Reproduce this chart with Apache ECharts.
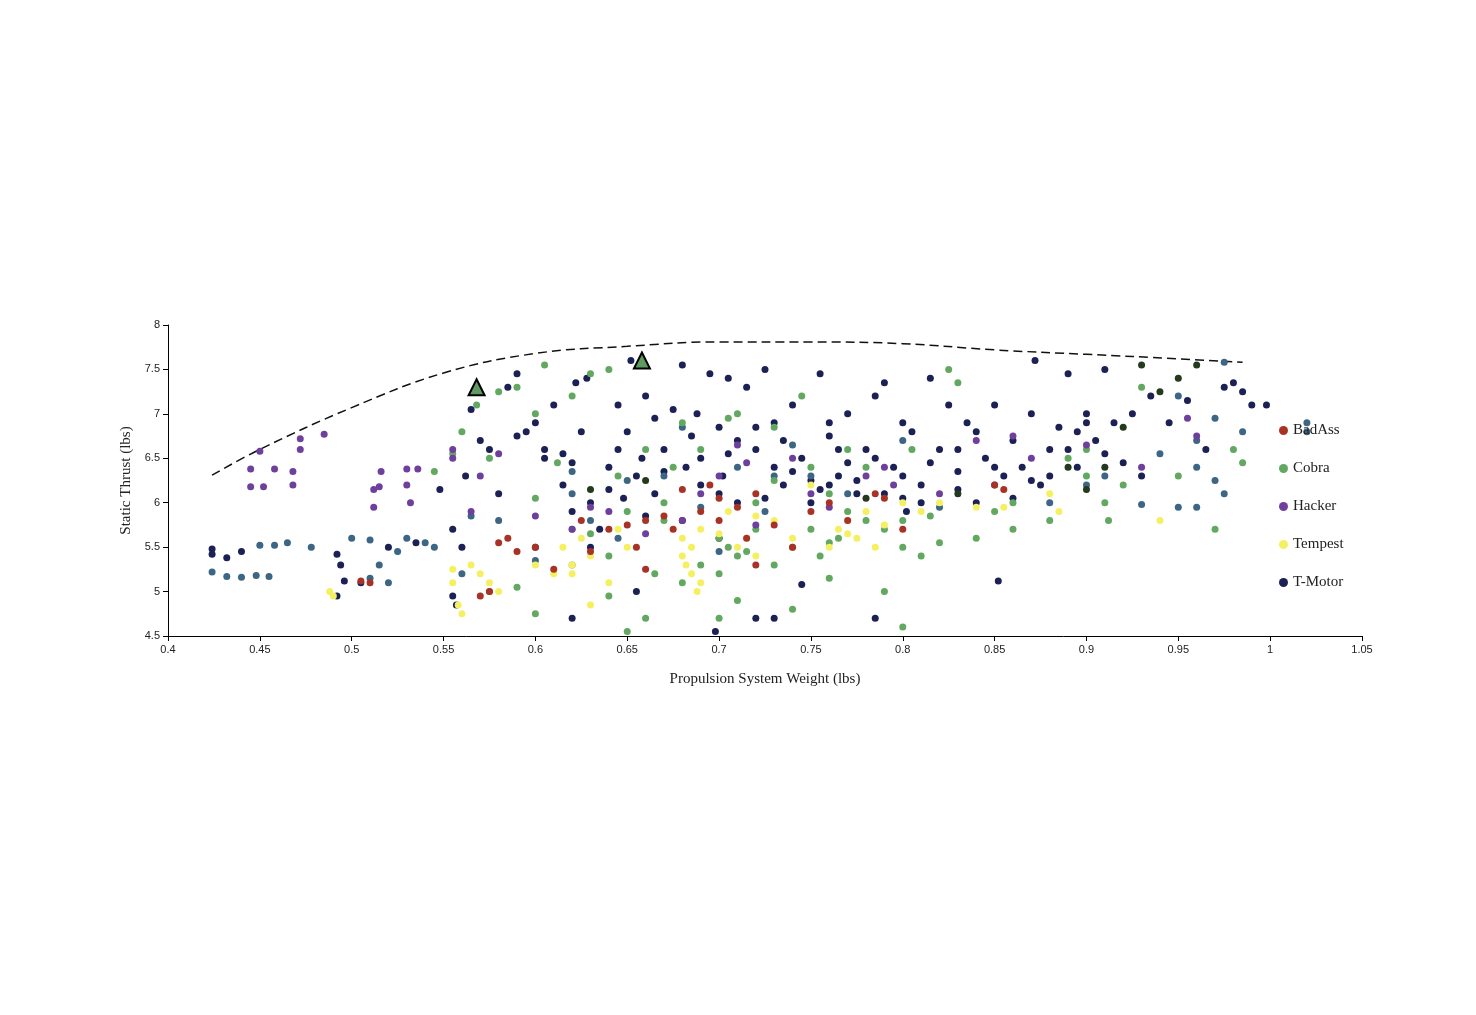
<!DOCTYPE html>
<html><head><meta charset="utf-8">
<script src="https://cdn.jsdelivr.net/npm/echarts@6/dist/echarts.min.js"></script>
<style>html,body{margin:0;background:#fff}#c{width:1476px;height:1015px}</style></head>
<body><div id="c"></div>
<script>
const tmotor=[[0.424,5.48],[0.424,5.42],[0.432,5.38],[0.44,5.45],[0.492,5.42],[0.494,5.3],[0.496,5.12],[0.492,4.95],[0.505,5.1],[0.52,5.5],[0.535,5.55],[0.555,4.95],[0.557,4.85],[0.56,5.5],[0.555,5.7],[0.548,6.15],[0.562,6.3],[0.565,7.05],[0.57,6.7],[0.575,6.6],[0.58,6.1],[0.585,7.3],[0.59,7.45],[0.595,6.8],[0.6,6.9],[0.605,6.5],[0.61,7.1],[0.615,6.2],[0.62,5.9],[0.622,7.35],[0.628,7.4],[0.63,6.0],[0.635,5.7],[0.64,6.4],[0.645,7.1],[0.648,6.05],[0.65,6.8],[0.652,7.6],[0.655,6.3],[0.658,6.5],[0.66,7.2],[0.665,6.1],[0.67,6.6],[0.675,7.05],[0.68,7.55],[0.682,6.4],[0.688,7.0],[0.69,6.2],[0.695,7.45],[0.7,6.85],[0.702,6.3],[0.705,7.4],[0.71,6.0],[0.715,7.3],[0.72,6.6],[0.725,7.5],[0.73,6.9],[0.735,6.2],[0.74,7.1],[0.745,6.5],[0.75,6.0],[0.755,7.45],[0.76,6.75],[0.765,6.3],[0.77,7.0],[0.775,6.1],[0.78,6.6],[0.785,7.2],[0.79,7.35],[0.795,6.4],[0.8,6.05],[0.802,5.9],[0.805,6.8],[0.81,6.2],[0.815,7.4],[0.82,6.6],[0.825,7.1],[0.83,6.35],[0.835,6.9],[0.84,6.0],[0.845,6.5],[0.85,7.1],[0.852,5.12],[0.855,6.3],[0.86,6.7],[0.865,6.4],[0.87,7.0],[0.872,7.6],[0.875,6.2],[0.88,6.6],[0.885,6.85],[0.89,7.45],[0.895,6.4],[0.9,7.0],[0.905,6.7],[0.91,7.5],[0.915,6.9],[0.92,6.45],[0.925,7.0],[0.93,6.3],[0.935,7.2],[0.945,6.9],[0.955,7.15],[0.965,6.6],[0.975,7.3],[0.98,7.35],[0.985,7.25],[0.99,7.1],[0.998,7.1],[0.785,4.7],[0.72,4.7],[0.73,4.7],[0.698,4.55],[0.745,5.08],[0.62,4.7],[0.655,5.0],[0.68,5.8],[0.7,5.6],[0.73,6.4],[0.75,6.25],[0.76,6.9],[0.64,6.15],[0.66,5.85],[0.71,6.7],[0.79,6.1],[0.81,6.0],[0.83,6.15],[0.86,6.05],[0.88,6.3],[0.9,6.9],[0.7,6.1],[0.725,6.05],[0.6,5.5],[0.605,6.6],[0.59,6.75],[0.63,5.5],[0.69,6.5],[0.765,6.6],[0.775,6.25],[0.895,6.8],[0.615,6.55],[0.625,6.8],[0.645,6.6],[0.67,6.35],[0.685,6.75],[0.705,6.55],[0.72,6.85],[0.74,6.35],[0.755,6.15],[0.77,6.45],[0.785,6.5],[0.8,6.3],[0.815,6.45],[0.83,6.6],[0.85,6.4],[0.87,6.25],[0.89,6.6],[0.91,6.55],[0.735,6.7],[0.665,6.95],[0.62,6.45],[0.76,6.2],[0.8,6.9],[0.84,6.8]];
const teal=[[0.424,5.22],[0.432,5.17],[0.44,5.16],[0.448,5.18],[0.455,5.17],[0.45,5.52],[0.458,5.52],[0.465,5.55],[0.478,5.5],[0.5,5.6],[0.51,5.58],[0.515,5.3],[0.525,5.45],[0.53,5.6],[0.54,5.55],[0.545,5.5],[0.52,5.1],[0.51,5.15],[0.56,5.2],[0.565,5.85],[0.58,5.8],[0.6,5.35],[0.62,6.1],[0.63,5.8],[0.65,6.25],[0.67,6.3],[0.69,5.95],[0.71,6.4],[0.73,6.3],[0.75,6.3],[0.77,6.1],[0.8,6.7],[0.82,5.95],[0.88,6.0],[0.9,6.2],[0.93,5.98],[0.95,5.95],[0.96,5.95],[0.97,6.25],[0.975,6.1],[0.96,6.7],[0.97,6.95],[0.985,6.8],[1.02,6.9],[1.02,6.8],[0.95,7.2],[0.96,6.4],[0.94,6.55],[0.68,6.85],[0.74,6.65],[0.62,6.35],[0.645,5.6],[0.7,5.45],[0.725,5.9],[0.85,6.2],[0.91,6.3],[0.975,7.58]];
const cobra=[[0.56,6.8],[0.568,7.1],[0.575,6.5],[0.58,7.25],[0.59,7.3],[0.6,7.0],[0.605,7.55],[0.612,6.45],[0.62,7.2],[0.63,7.45],[0.64,7.5],[0.645,6.3],[0.65,5.9],[0.66,6.6],[0.665,5.2],[0.67,6.0],[0.675,6.4],[0.68,6.9],[0.69,5.3],[0.7,5.6],[0.705,6.95],[0.71,5.4],[0.72,5.7],[0.73,6.25],[0.74,5.5],[0.745,7.2],[0.75,5.7],[0.755,5.4],[0.76,6.1],[0.765,5.6],[0.77,5.9],[0.78,6.4],[0.79,5.7],[0.8,5.5],[0.805,6.6],[0.81,5.4],[0.815,5.85],[0.825,7.5],[0.83,7.35],[0.84,5.6],[0.85,5.9],[0.86,5.7],[0.88,5.8],[0.89,6.5],[0.9,6.3],[0.91,6.0],[0.912,5.8],[0.92,6.2],[0.93,7.3],[0.97,5.7],[0.98,6.6],[0.985,6.45],[0.65,4.55],[0.66,4.7],[0.64,4.95],[0.6,4.75],[0.59,5.05],[0.62,5.3],[0.7,4.7],[0.71,4.9],[0.8,4.6],[0.79,5.0],[0.76,5.15],[0.74,4.8],[0.63,5.65],[0.67,5.8],[0.69,6.6],[0.72,6.0],[0.75,6.4],[0.77,6.6],[0.545,6.35],[0.555,6.55],[0.575,5.0],[0.6,6.05],[0.62,5.7],[0.7,5.2],[0.73,5.3],[0.76,5.55],[0.78,5.8],[0.8,5.8],[0.82,5.55],[0.64,5.4],[0.68,5.1],[0.705,5.5],[0.715,5.45],[0.71,7.0],[0.73,6.85],[0.86,6.0],[0.9,6.6],[0.95,6.3]];
const hacker=[[0.445,6.38],[0.445,6.18],[0.452,6.18],[0.45,6.58],[0.458,6.38],[0.468,6.35],[0.468,6.2],[0.472,6.72],[0.472,6.6],[0.485,6.77],[0.512,6.15],[0.515,6.18],[0.512,5.95],[0.516,6.35],[0.53,6.38],[0.53,6.2],[0.532,6.0],[0.536,6.38],[0.555,6.6],[0.555,6.5],[0.565,5.9],[0.57,6.3],[0.58,6.55],[0.6,5.85],[0.62,5.7],[0.64,5.9],[0.66,5.65],[0.68,5.8],[0.7,6.3],[0.71,6.65],[0.715,6.45],[0.72,5.75],[0.74,6.5],[0.75,6.1],[0.76,5.95],[0.78,6.3],[0.79,6.4],[0.795,6.2],[0.82,6.1],[0.84,6.7],[0.86,6.75],[0.87,6.5],[0.9,6.65],[0.93,6.4],[0.955,6.95],[0.96,6.75],[0.63,5.95],[0.69,6.1]];
const tempest=[[0.488,5.0],[0.49,4.95],[0.555,5.25],[0.555,5.1],[0.558,4.85],[0.56,4.75],[0.565,5.3],[0.57,5.2],[0.575,5.1],[0.58,5.0],[0.615,5.5],[0.62,5.3],[0.62,5.2],[0.625,5.6],[0.63,5.4],[0.63,4.85],[0.64,5.1],[0.645,5.7],[0.65,5.5],[0.68,5.6],[0.68,5.4],[0.682,5.3],[0.685,5.2],[0.688,5.0],[0.685,5.5],[0.69,5.7],[0.7,5.65],[0.705,5.9],[0.71,5.5],[0.715,5.6],[0.72,5.4],[0.72,5.85],[0.74,5.6],[0.75,6.2],[0.76,5.5],[0.765,5.7],[0.77,5.8],[0.775,5.6],[0.78,5.9],[0.785,5.5],[0.79,5.75],[0.8,6.0],[0.81,5.9],[0.82,6.0],[0.84,5.95],[0.855,5.95],[0.88,6.1],[0.885,5.9],[0.94,5.8],[0.6,5.3],[0.61,5.2],[0.69,5.1],[0.77,5.65],[0.73,5.8]];
const badass=[[0.505,5.12],[0.51,5.1],[0.57,4.95],[0.575,5.0],[0.58,5.55],[0.585,5.6],[0.59,5.45],[0.6,5.5],[0.61,5.25],[0.625,5.8],[0.64,5.7],[0.65,5.75],[0.655,5.5],[0.66,5.8],[0.67,5.85],[0.675,5.7],[0.68,6.15],[0.69,5.9],[0.695,6.2],[0.7,5.8],[0.71,5.95],[0.715,5.6],[0.72,6.1],[0.73,5.75],[0.74,5.5],[0.75,5.9],[0.76,6.0],[0.77,5.8],[0.785,6.1],[0.79,6.05],[0.8,5.7],[0.85,6.2],[0.855,6.15],[0.66,5.25],[0.63,5.45],[0.72,5.3],[0.7,6.05]];
const darkgreen=[[0.78,6.05],[0.83,6.1],[0.89,6.4],[0.9,6.15],[0.91,6.4],[0.93,7.55],[0.95,7.4],[0.96,7.55],[0.94,7.25],[0.92,6.85],[0.63,6.15],[0.66,6.25]];
const frontier=[[0.424,6.31],[0.45,6.6],[0.5,7.07],[0.55,7.46],[0.6,7.68],[0.65,7.76],[0.7,7.81],[0.75,7.81],[0.8,7.79],[0.85,7.72],[0.9,7.67],[0.95,7.62],[0.985,7.58]];
const designs=[[0.568,7.3],[0.658,7.6]];
const serif='"Liberation Serif","Times New Roman",serif';
const sc=(name,data,color)=>({name,type:'scatter',data,symbolSize:7,itemStyle:{color,opacity:1}});
const chart=echarts.init(document.getElementById('c'));
chart.setOption({
 animation:false,
 grid:{left:168,right:114,top:325,bottom:379},
 xAxis:{type:'value',min:0.4,max:1.05,interval:0.05,splitLine:{show:false},
  axisLine:{lineStyle:{color:'#000'}},axisTick:{lineStyle:{color:'#000'}},
  axisLabel:{color:'#222',fontSize:11,formatter:v=>String(Number(v.toFixed(2)))},
  name:'Propulsion System Weight (lbs)',nameLocation:'middle',nameGap:36,nameTextStyle:{fontFamily:serif,fontSize:15,color:'#222'}},
 yAxis:{type:'value',min:4.5,max:8,interval:0.5,splitLine:{show:false},
  axisLine:{show:true,lineStyle:{color:'#000'}},axisTick:{show:true,lineStyle:{color:'#000'}},
  axisLabel:{color:'#222',fontSize:11,formatter:v=>String(Number(v.toFixed(2)))},
  name:'Static Thrust (lbs)',nameLocation:'middle',nameGap:34,nameTextStyle:{fontFamily:serif,fontSize:15,color:'#222'}},
 legend:{orient:'vertical',left:1274,top:418,itemGap:23,itemWidth:9,itemHeight:9,icon:'circle',
  data:['BadAss','Cobra','Hacker','Tempest','T-Motor'],textStyle:{fontFamily:serif,fontSize:15,color:'#222'}},
 series:[
  {name:'frontier',type:'line',data:frontier,smooth:0.4,symbol:'none',lineStyle:{color:'#111',type:[9,5],width:1.5},z:1},
  sc('T-Motor',tmotor,'#1b2155'),
  sc('teal',teal,'#3d6584'),
  sc('Cobra',cobra,'#62a860'),
  sc('Hacker',hacker,'#6f3f9e'),
  sc('Tempest',tempest,'#f5f062'),
  sc('BadAss',badass,'#a83225'),
  sc('dg',darkgreen,'#243a1e'),
  {name:'designs',type:'scatter',data:designs,symbol:'triangle',symbolSize:16,itemStyle:{color:'#5f9a62',borderColor:'#000',borderWidth:2,opacity:1},z:10}
 ]
});
</script></body></html>
